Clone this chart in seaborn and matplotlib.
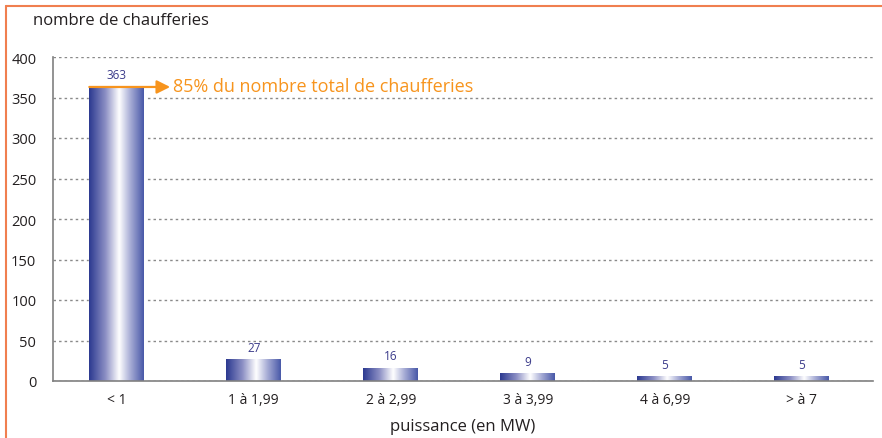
import numpy as np
import pandas as pd
import matplotlib
matplotlib.use("Agg")
import matplotlib.pyplot as plt
import seaborn as sns
from matplotlib.colors import LinearSegmentedColormap
from matplotlib.lines import Line2D

categories = ["< 1", "1 à 1,99", "2 à 2,99", "3 à 3,99", "4 à 6,99", "> à 7"]
values = [363, 27, 16, 9, 5, 5]
y_ticks = [0, 50, 100, 150, 200, 250, 300, 350, 400]
annotation_text = "85% du nombre total de chaufferies"

sns.set_theme(style="white")
plt.rcParams['font.family'] = ['Open Sans', 'DejaVu Sans']

df = pd.DataFrame({"cat": categories, "val": values})

fig = plt.figure(figsize=(8.82, 4.39), dpi=100)
ax = fig.add_axes([53/882, 1-382/439, (873-53)/882, (382-58)/439])

sns.barplot(data=df, x="cat", y="val", ax=ax, width=0.40, color="#3A4A9E",
            saturation=1, zorder=3)

cmap = LinearSegmentedColormap.from_list(
    "bar", [(0, "#2B3990"), (0.3, "#8C8FC4"), (0.55, "#FFFFFF"),
            (0.75, "#A9AED6"), (1, "#4858A8")])
grad = np.linspace(0, 1, 256).reshape(1, -1)
for p in ax.patches:
    x0, y0 = p.get_x(), p.get_y()
    w, h = p.get_width(), p.get_height()
    ax.imshow(grad, extent=[x0, x0 + w, y0, y0 + h], aspect="auto",
              cmap=cmap, zorder=4, interpolation="bicubic")
    ax.annotate(f"{int(h)}", (x0 + w / 2, y0 + h), xytext=(0, 4),
                textcoords="offset points", ha="center", va="bottom",
                fontsize=8.5, color="#3B3B8A", zorder=6)

ax.set_xlim(-0.465, 5.52)
ax.set_ylim(0, 400)
ax.set_yticks(y_ticks)
ax.yaxis.grid(True, linestyle=(0, (1.8, 2.2)), color="#8A8A8A", lw=1.0, zorder=1)
ax.xaxis.grid(False)
for s in ["top", "right"]:
    ax.spines[s].set_visible(False)
for s in ["left", "bottom"]:
    ax.spines[s].set_color("#808080")
    ax.spines[s].set_linewidth(1.2)
    ax.spines[s].set_zorder(5)
ax.tick_params(axis="both", length=0, labelsize=10, colors="#231F20")
ax.tick_params(axis="y", labelsize=10.5, pad=12)
ax.tick_params(axis="x", pad=8)
ax.set_xlabel("puissance (en MW)", fontsize=12, color="#231F20", labelpad=8)
ax.set_ylabel("")

fig.text(33/882, 1-21/439, "nombre de chaufferies", fontsize=12,
         color="#231F20", ha="left", va="center")

orange = "#F7941D"
first = ax.patches[0]
bx0 = first.get_x()
ax.annotate("", xy=(0.39, values[0]), xytext=(bx0, values[0]),
            arrowprops=dict(arrowstyle="-|>", color=orange, lw=1.6,
                            mutation_scale=20, shrinkA=0, shrinkB=0),
            zorder=7)
ax.text(0.41, values[0] + 1, annotation_text, color=orange, fontsize=13,
        ha="left", va="center", zorder=7)

border = "#F07F4F"
fig.add_artist(Line2D([6/882, 6/882], [0, 1-7/439], color=border, lw=1.5,
                      transform=fig.transFigure))
fig.add_artist(Line2D([6/882, 1], [1-7/439, 1-7/439], color=border, lw=1.5,
                      transform=fig.transFigure))

fig.savefig("out.png", dpi=100)
